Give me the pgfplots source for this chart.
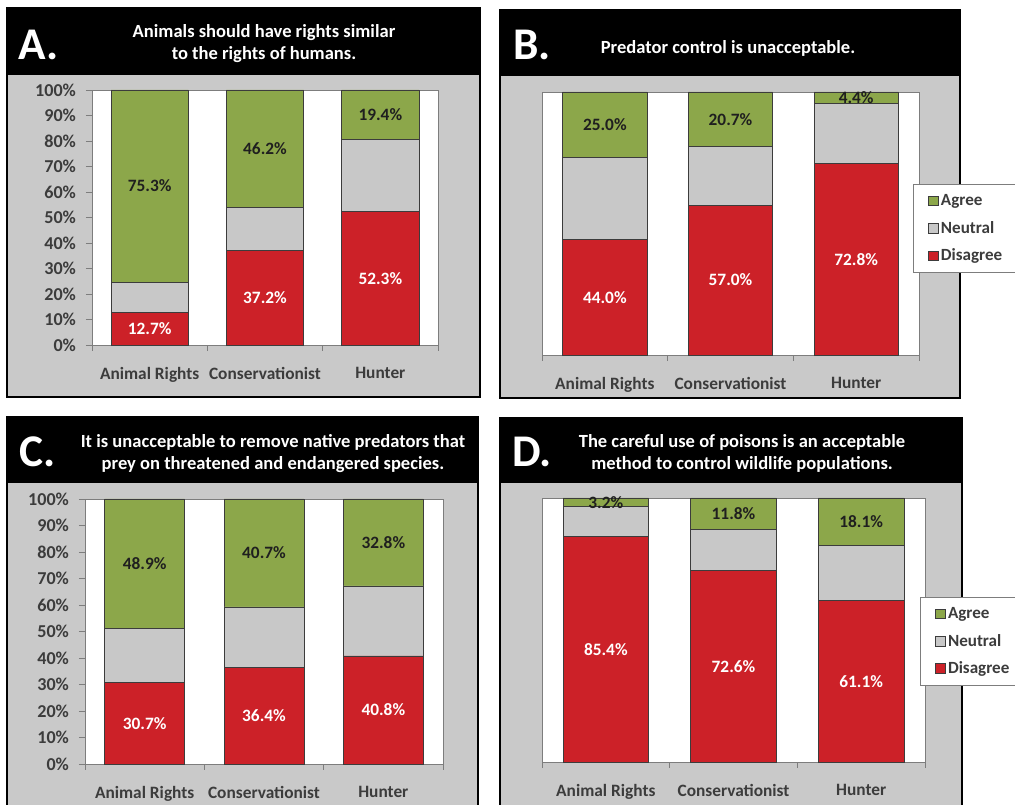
\documentclass[border=0pt]{standalone}
\usepackage{pgfplots}
\pgfplotsset{compat=1.18}
\usepackage{fontspec}
\setmainfont{Carlito}
\definecolor{agr}{RGB}{140,167,74}
\definecolor{neu}{RGB}{200,200,200}
\definecolor{dis}{RGB}{204,33,40}
\definecolor{panel}{RGB}{201,201,201}
\definecolor{tickc}{RGB}{60,60,60}
\definecolor{axc}{RGB}{125,125,125}
\definecolor{barln}{RGB}{60,60,60}
\newcommand\tfont{\fontsize{13}{15}\selectfont\bfseries}
\newcommand\yfont{\fontsize{13.6}{15}\selectfont\bfseries}
\newcommand\hfont{\fontsize{13.9}{16.5}\selectfont\bfseries}
\newcommand\bigfont{\fontsize{34}{36}\selectfont\bfseries}
\pgfplotsset{
  panelaxis/.style={
    scale only axis, anchor=south west,
    ybar stacked, bar width=0.67,
    xmin=-0.5, xmax=2.5, ymin=0, ymax=100,
    axis background/.style={fill=white},
    axis line style={draw=axc, line width=0.6pt},
    xtick={0,1,2},
    xticklabels={Animal Rights,Conservationist,Hunter},
    minor xtick={-0.5,0.5,1.5,2.5},
    major x tick style={draw=none},
    minor x tick style={draw=axc, line width=0.6pt},
    y tick style={draw=axc, line width=0.6pt},
    tick align=outside,
    minor tick length=4.5pt,
    major tick length=4.5pt,
    xtick pos=bottom, ytick pos=left,
    x tick label style={font=\tfont, text=tickc, yshift=-9pt},
    y tick label style={font=\yfont, text=tickc, xshift=-4pt},
    ytick={0,10,...,100},
    yticklabels={0\%,10\%,20\%,30\%,40\%,50\%,60\%,70\%,80\%,90\%,100\%},
    clip=false,
  },
  noyticks/.style={ytick=\empty},
  sqleg/.style={legend image code/.code={\draw[##1, draw=barln, line width=0.5pt] (0pt,-3.6pt) rectangle (7.2pt,3.6pt);}},
  bD/.style={fill=dis, draw=barln, line width=0.5pt, sqleg},
  bN/.style={fill=neu, draw=barln, line width=0.5pt, sqleg},
  bA/.style={fill=agr, draw=barln, line width=0.5pt, sqleg},
  labelaxis/.style={scale only axis, anchor=south west,
    xmin=-0.5, xmax=2.5, ymin=0, ymax=100, hide axis, clip=false},
  lW/.style={draw=none, mark=none, nodes near coords, point meta=explicit symbolic,
    every node near coord/.append style={anchor=center, font=\tfont, text=white}},
  lK/.style={draw=none, mark=none, nodes near coords, point meta=explicit symbolic,
    every node near coord/.append style={anchor=center, font=\tfont, text=black!88}},
  legstyle/.style={legend style={anchor=north west, draw=axc, fill=white,
    font=\fontsize{12.8}{14}\selectfont\bfseries, text=tickc, row sep=6.2pt,
    inner xsep=11pt, inner ysep=5.5pt, line width=0.6pt},
    legend cell align=left, reverse legend},
}
\begin{document}
\begin{tikzpicture}[x=0.75pt,y=0.75pt]
\clip (0,0) rectangle (1015,805);
\fill[white] (0,0) rectangle (1015,805);
% ---- panel frames
\draw[fill=panel, line width=1.5pt] (7,408) rectangle (480,797);
\fill[black] (7,730) rectangle (480,797);
\draw[fill=panel, line width=1.5pt] (500,407) rectangle (960,795);
\fill[black] (500,729) rectangle (960,795);
\draw[fill=panel, line width=1.5pt] (7,-45) rectangle (478,388);
\fill[black] (7,322) rectangle (478,388);
\draw[fill=panel, line width=1.5pt] (500,-45) rectangle (962,387);
\fill[black] (500,322) rectangle (962,387);
% ---- titles
\node[anchor=base west, text=white, font=\bigfont, inner sep=0pt] at (18,745) {A.};
\node[align=center, text=white, font=\hfont] at (264,761) {Animals should have rights similar\\to the rights of humans.};
\node[anchor=base west, text=white, font=\bigfont, inner sep=0pt] at (513,745) {B.};
\node[align=center, text=white, font=\hfont] at (728,757) {Predator control is unacceptable.};
\node[anchor=base west, text=white, font=\bigfont, inner sep=0pt] at (19,338) {C.};
\node[align=center, text=white, font=\hfont] at (273,351) {It is unacceptable to remove native predators that\\prey on threatened and endangered species.};
\node[anchor=base west, text=white, font=\bigfont, inner sep=0pt] at (512,338) {D.};
\node[align=center, text=white, font=\hfont] at (742,352) {The careful use of poisons is an acceptable\\method to control wildlife populations.};

% ---- A
\begin{axis}[panelaxis, at={(69pt,345pt)}, width=259.5pt, height=191.25pt]
\addplot[bD] coordinates {(0,12.7) (1,37.2) (2,52.3)};
\addplot[bN] coordinates {(0,12.0) (1,16.6) (2,28.3)};
\addplot[bA] coordinates {(0,75.3) (1,46.2) (2,19.4)};
\end{axis}
\begin{axis}[labelaxis, at={(69pt,345pt)}, width=259.5pt, height=191.25pt]
\addplot[lW] coordinates {(0,6.35)[12.7\%] (1,18.6)[37.2\%] (2,26.15)[52.3\%]};
\addplot[lK] coordinates {(0,62.35)[75.3\%] (1,76.9)[46.2\%] (2,90.3)[19.4\%]};
\end{axis}

% ---- B
\begin{axis}[panelaxis, noyticks, legstyle, legend style={at={(0.984,0.65)}},
  at={(406.5pt,337.5pt)}, width=282.75pt, height=197.25pt]
\addplot[bD] coordinates {(0,44.0) (1,57.0) (2,72.8)};
\addplot[bN] coordinates {(0,31.0) (1,22.3) (2,22.8)};
\addplot[bA] coordinates {(0,25.0) (1,20.7) (2,4.4)};
\legend{Disagree,Neutral,Agree}
\end{axis}
\begin{axis}[labelaxis, at={(406.5pt,337.5pt)}, width=282.75pt, height=197.25pt]
\addplot[lW] coordinates {(0,22.0)[44.0\%] (1,28.5)[57.0\%] (2,36.4)[72.8\%]};
\addplot[lK] coordinates {(0,87.5)[25.0\%] (1,89.65)[20.7\%] (2,97.8)[4.4\%]};
\end{axis}

% ---- C
\begin{axis}[panelaxis, at={(63.75pt,30.75pt)}, width=268.5pt, height=198.75pt]
\addplot[bD] coordinates {(0,30.7) (1,36.4) (2,40.8)};
\addplot[bN] coordinates {(0,20.4) (1,22.9) (2,26.4)};
\addplot[bA] coordinates {(0,48.9) (1,40.7) (2,32.8)};
\end{axis}
\begin{axis}[labelaxis, at={(63.75pt,30.75pt)}, width=268.5pt, height=198.75pt]
\addplot[lW] coordinates {(0,15.35)[30.7\%] (1,18.2)[36.4\%] (2,20.4)[40.8\%]};
\addplot[lK] coordinates {(0,75.55)[48.9\%] (1,79.65)[40.7\%] (2,83.6)[32.8\%]};
\end{axis}

% ---- D
\begin{axis}[panelaxis, noyticks, legstyle, legend style={at={(0.987,0.625)}},
  at={(406.5pt,32.25pt)}, width=287.25pt, height=198pt]
\addplot[bD] coordinates {(0,85.4) (1,72.6) (2,61.1)};
\addplot[bN] coordinates {(0,11.4) (1,15.6) (2,20.8)};
\addplot[bA] coordinates {(0,3.2) (1,11.8) (2,18.1)};
\legend{Disagree,Neutral,Agree}
\end{axis}
\begin{axis}[labelaxis, at={(406.5pt,32.25pt)}, width=287.25pt, height=198pt]
\addplot[lW] coordinates {(0,42.7)[85.4\%] (1,36.3)[72.6\%] (2,30.55)[61.1\%]};
\addplot[lK] coordinates {(0,98.4)[3.2\%] (1,94.1)[11.8\%] (2,90.95)[18.1\%]};
\end{axis}
\end{tikzpicture}
\end{document}
